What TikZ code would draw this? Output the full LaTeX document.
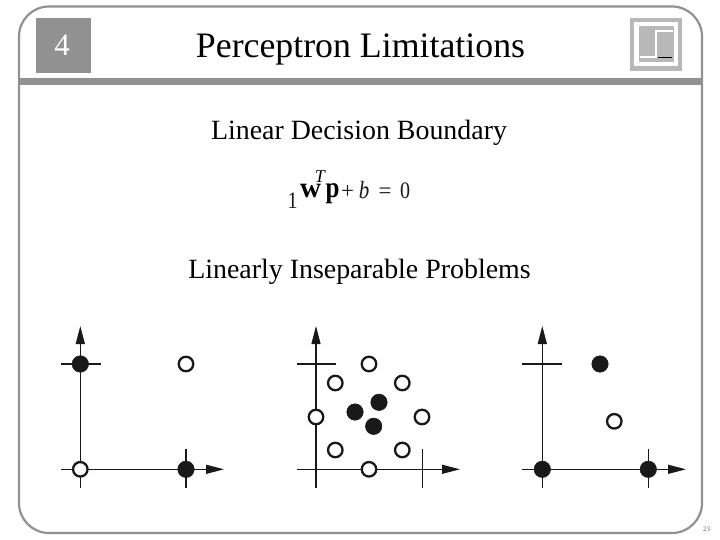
\documentclass[tikz,border=0pt]{standalone}
\usepackage{fontspec}
\usepackage{graphicx}
\setmainfont{Liberation Serif}
\usetikzlibrary{arrows.meta}
\definecolor{barg}{gray}{0.57}
\definecolor{icong}{gray}{0.72}
\definecolor{ink}{gray}{0.1}
\newcommand{\fs}[1]{\fontsize{#1}{#1}\selectfont}
\newcommand{\tallbox}[1]{\scalebox{1}[1.18]{#1}}
\tikzset{
  axisline/.style={draw=ink,line width=1.3pt},
  axisarrow/.style={axisline,-{Triangle[length=18pt,width=9pt]}},
  tickline/.style={draw=ink,line width=1.3pt},
  fulldot/.style={circle,fill=ink,draw=ink,line width=0.5pt,minimum size=16.5pt,inner sep=0pt},
  opendot/.style={circle,fill=white,draw=ink,line width=2.3pt,minimum size=14.5pt,inner sep=0pt},
  txt/.style={inner sep=0pt,text=black,anchor=base},
}
\begin{document}
\begin{tikzpicture}[x=1pt,y=-1pt]
\useasboundingbox (0,0) rectangle (720,540);
\fill[white] (0,0) rectangle (720,540);
% frame
\draw[barg,line width=2.2pt,rounded corners=30pt] (19,6.5) rectangle (702,533);
\fill[barg] (19,78) rectangle (702,85);
% section box
\fill[barg] (36,18) rectangle (91,73);
\node[txt,font=\fs{31},text=white] (sec) at (62,56) {4};
% title
\node[txt,font=\fs{35.8}] (title) at (360.5,58) {Perceptron Limitations};
% icon
\fill[icong] (630,18) rectangle (682,71);
\fill[white] (634,22.5) rectangle (678,66.5);
\fill[icong] (638.5,26.5) rectangle (674,62.5);
\draw[white,line width=2pt] (640,57.3) -- (656,57.3) -- (656,31.3) -- (672.7,31.3);
\draw[black,line width=0.8pt] (657.7,57.3) -- (672.3,57.3);
% headings
\node[txt,font=\fs{27.9}] (h1) at (359,140) {Linear Decision Boundary};
\node[txt,font=\fs{27.9}] (h2) at (359.5,278) {Linearly Inseparable Problems};
% equation
\node[txt,font=\fs{20},text=ink] (e1) at (292.5,208) {\tallbox{1}};
\node[txt,font=\fs{29}\bfseries] (ew) at (310.5,198) {w};
\node[txt,font=\fs{18}\itshape] (eT) at (320,183) {T};
\node[txt,font=\fs{25}\bfseries] (ep) at (332.5,198) {\tallbox{p}};
\node[txt,font=\fs{23},text=ink] (eplus) at (347.5,198.5) {+};
\node[txt,font=\fs{21}\itshape,text=ink] (eb) at (364,199) {\tallbox{b}};
\node[txt,font=\fs{23},text=ink] (eeq) at (385,199) {=};
\node[txt,font=\fs{20},text=ink] (e0) at (405,199) {\tallbox{0}};
% panel A
\coordinate (a1) at (80.3,488); \coordinate (a2) at (80.3,326);
\coordinate (a3) at (61,469.3); \coordinate (a4) at (224,469.3);
\coordinate (a5) at (61,364); \coordinate (a6) at (100.7,364);
\coordinate (a7) at (186,449); \coordinate (a8) at (186,488);
\draw[axisarrow] (a1) -- (a2);
\draw[axisarrow] (a3) -- (a4);
\draw[tickline] (a5) -- (a6);
\draw[tickline] (a7) -- (a8);
\node[fulldot] (a9) at (80.3,364) {};
\node[opendot] (a10) at (186,364) {};
\node[opendot] (a11) at (80.3,469.3) {};
\node[fulldot] (a12) at (186,469.3) {};
% panel B
\coordinate (b1) at (316,488); \coordinate (b2) at (316,326);
\coordinate (b3) at (297,469.3); \coordinate (b4) at (460,469.3);
\coordinate (b5) at (297,364); \coordinate (b6) at (335.5,364);
\coordinate (b7) at (422.3,449); \coordinate (b8) at (422.3,488);
\draw[axisarrow] (b1) -- (b2);
\draw[axisarrow] (b3) -- (b4);
\draw[tickline] (b5) -- (b6);
\draw[tickline] (b7) -- (b8);
\foreach \n/\p in {b9/{369,364},b10/{335.3,383},b11/{402.3,383},b12/{316,417},b13/{422,417},b14/{335.3,450},b15/{402.3,450},b16/{369,469.3}}
  \node[opendot] (\n) at (\p) {};
\foreach \n/\p in {b17/{379,402.3},b18/{355,412},b19/{373.7,426.3}}
  \node[fulldot] (\n) at (\p) {};
% panel C
\coordinate (c1) at (542.3,488); \coordinate (c2) at (542.3,326);
\coordinate (c3) at (522,469.3); \coordinate (c4) at (686,469.3);
\coordinate (c5) at (522,364); \coordinate (c6) at (562,364);
\coordinate (c7) at (648.3,449); \coordinate (c8) at (648.3,488);
\draw[axisarrow] (c1) -- (c2);
\draw[axisarrow] (c3) -- (c4);
\draw[tickline] (c5) -- (c6);
\draw[tickline] (c7) -- (c8);
\node[fulldot] (c9) at (600,364) {};
\node[opendot] (c10) at (614.3,421.3) {};
\node[fulldot] (c11) at (542.3,469.3) {};
\node[fulldot] (c12) at (648.3,469.3) {};
% page number
\node[txt,font=\fs{7},text=black!60] (pg) at (706.5,531.5) {23};
\end{tikzpicture}
\end{document}
